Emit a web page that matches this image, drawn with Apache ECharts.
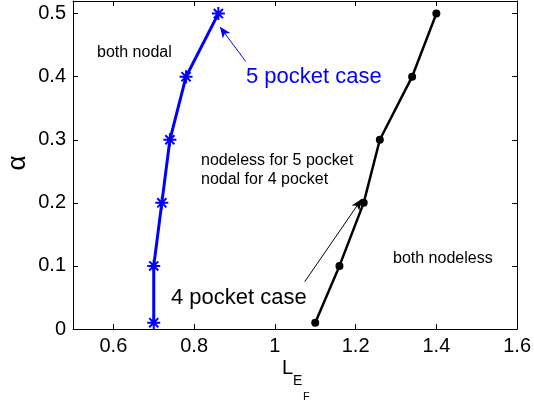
<!DOCTYPE html>
<html>
<head>
<meta charset="utf-8">
<script src="https://cdn.jsdelivr.net/npm/echarts@6/dist/echarts.min.js"></script>
<style>
html, body { margin: 0; padding: 0; background: #fff; }
#chart { width: 534px; height: 403px; }
</style>
</head>
<body>
<div id="chart"></div>
<script>
// Phase boundaries: alpha versus L_{E_F}
const alpha = [0.01, 0.10, 0.20, 0.30, 0.40, 0.50];
const lef5Pocket = [0.70, 0.70, 0.72, 0.74, 0.78, 0.86];
const lef4Pocket = [1.10, 1.16, 1.22, 1.26, 1.34, 1.40];
const xTicks = [0.6, 0.8, 1.0, 1.2, 1.4, 1.6];
const yTicks = [0, 0.1, 0.2, 0.3, 0.4, 0.5];

const FONT = '"Liberation Sans", Arial, Helvetica, sans-serif';
const asterisk = 'path://M5,0L5,10M0,5L10,5M1.5,1.5L8.5,8.5M1.5,8.5L8.5,1.5';

const fmt = v => String(+(+v).toFixed(1));

const chart = echarts.init(document.getElementById('chart'), null, { renderer: 'canvas' });

const axisCommon = {
  type: 'value',
  axisLine: { show: true, onZero: false, lineStyle: { color: '#000', width: 1 } },
  splitLine: { show: false },
  axisTick: { show: true, inside: true, length: 5, lineStyle: { color: '#000', width: 1 } }
};

chart.setOption({
  animation: false,
  backgroundColor: '#fff',
  grid: { left: 73, right: 15, top: 1, bottom: 74 },
  xAxis: [
    Object.assign({}, axisCommon, {
      min: 0.5, max: 1.6, position: 'bottom',
      axisTick: Object.assign({}, axisCommon.axisTick, { customValues: xTicks }),
      axisLabel: { customValues: xTicks, formatter: fmt, color: '#000', fontSize: 20, fontFamily: FONT, margin: 7 }
    }),
    Object.assign({}, axisCommon, {
      min: 0.5, max: 1.6, position: 'top',
      axisTick: Object.assign({}, axisCommon.axisTick, { customValues: xTicks }),
      axisLabel: { show: false }
    })
  ],
  yAxis: [
    Object.assign({}, axisCommon, {
      min: 0, max: 0.52, position: 'left',
      axisTick: Object.assign({}, axisCommon.axisTick, { customValues: yTicks }),
      axisLabel: { customValues: yTicks, formatter: fmt, color: '#000', fontSize: 20, fontFamily: FONT, margin: 7 }
    }),
    Object.assign({}, axisCommon, {
      min: 0, max: 0.52, position: 'right',
      axisTick: Object.assign({}, axisCommon.axisTick, { customValues: yTicks }),
      axisLabel: { show: false }
    })
  ],
  series: [
    {
      name: '5 pocket',
      type: 'line',
      data: lef5Pocket.map((x, i) => [x, alpha[i]]),
      lineStyle: { color: '#0000ff', width: 3 },
      symbol: asterisk,
      symbolSize: 13,
      itemStyle: { color: '#0000ff', borderColor: '#0000ff', borderWidth: 2 },
      z: 3,
      markLine: {
        silent: true,
        symbol: ['none', 'arrow'],
        symbolSize: [7, 11],
        label: { show: false },
        lineStyle: { color: '#0000ff', width: 1, type: 'solid' },
        data: [[{ coord: [0.928, 0.424] }, { coord: [0.864, 0.479] }]]
      }
    },
    {
      name: '4 pocket',
      type: 'line',
      data: lef4Pocket.map((x, i) => [x, alpha[i]]),
      lineStyle: { color: '#000', width: 2.5 },
      symbol: 'circle',
      symbolSize: 8,
      itemStyle: { color: '#000' },
      z: 3,
      markLine: {
        silent: true,
        symbol: ['none', 'arrow'],
        symbolSize: [7, 11],
        label: { show: false },
        lineStyle: { color: '#000', width: 1, type: 'solid' },
        data: [[{ coord: [1.074, 0.075] }, { coord: [1.215, 0.206] }]]
      }
    }
  ],
  graphic: [
    { type: 'text', left: 97, top: 45, style: { text: 'both nodal', fill: '#000', font: '16px ' + FONT } },
    { type: 'text', left: 246, top: 66, style: { text: '5 pocket case', fill: '#0000ff', font: '22px ' + FONT } },
    { type: 'text', left: 201, top: 151, style: { text: 'nodeless for 5 pocket\nnodal for 4 pocket', fill: '#000', font: '16px ' + FONT, lineHeight: 19 } },
    { type: 'text', left: 393, top: 251, style: { text: 'both nodeless', fill: '#000', font: '16px ' + FONT } },
    { type: 'text', left: 171, top: 287, style: { text: '4 pocket case', fill: '#000', font: '22px ' + FONT } },
    { type: 'text', x: 18, y: 163, rotation: Math.PI / 2, style: { text: 'α', fill: '#000', font: '26px ' + FONT, align: 'center', verticalAlign: 'middle' } },
    { type: 'text', left: 282, top: 358, style: { text: 'L', fill: '#000', font: '20px ' + FONT } },
    { type: 'text', left: 293, top: 374, style: { text: 'E', fill: '#000', font: '14px ' + FONT } },
    { type: 'text', left: 303, top: 391, style: { text: 'F', fill: '#000', font: '11px ' + FONT } }
  ]
});
</script>
</body>
</html>
